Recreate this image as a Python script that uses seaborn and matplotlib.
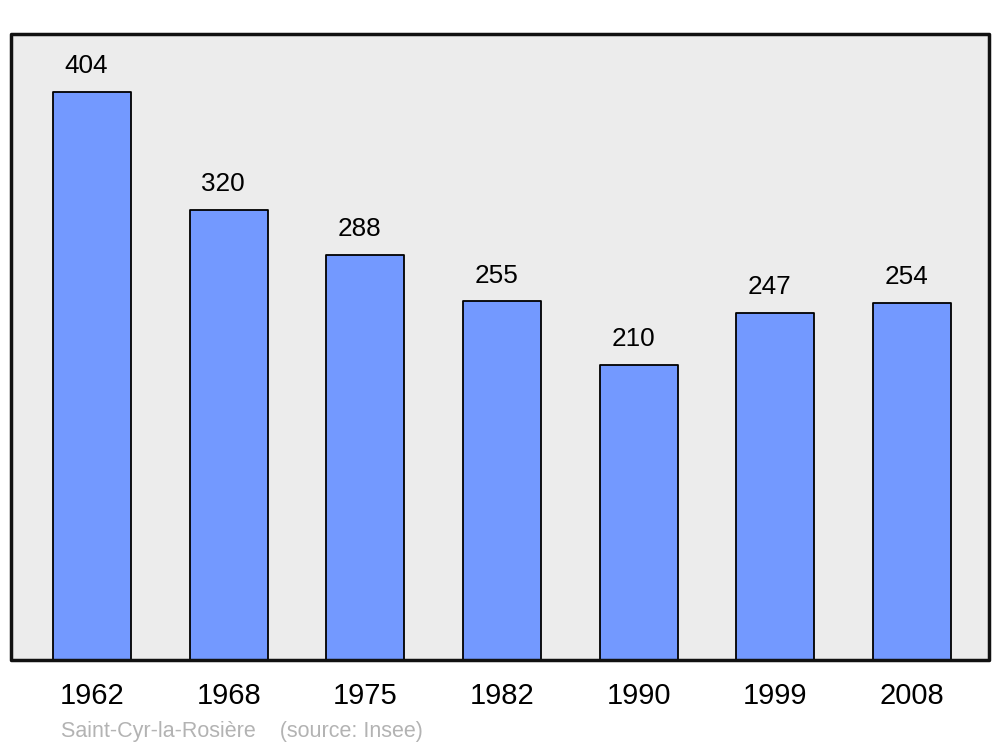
import matplotlib
matplotlib.use("Agg")
import matplotlib.pyplot as plt
import seaborn as sns
import pandas as pd
from matplotlib.patches import Rectangle

years = ["1962", "1968", "1975", "1982", "1990", "1999", "2008"]
population = [404, 320, 288, 255, 210, 247, 254]
source_text = "Saint-Cyr-la-Rosière    (source: Insee)"

sns.set_style("white")
plt.rcParams['font.family'] = ['Liberation Sans', 'DejaVu Sans']

df = pd.DataFrame({"year": years, "pop": population})

fig = plt.figure(figsize=(10, 7.47), dpi=100)
ax = fig.add_axes([0.011, 0.1165, 0.978, 0.838])
ax.set_facecolor("#ececec")

sns.barplot(data=df, x="year", y="pop", color="#7399ff", saturation=1,
            edgecolor="black", linewidth=1.3, width=0.57, ax=ax)
for p in ax.patches:
    p.set_joinstyle("round")

ax.set_xlim(-0.593, 6.563)
ax.set_ylim(0, 445)

for i, v in enumerate(population):
    ax.annotate(str(v), (i, v), xytext=(-4, 13.5), textcoords="offset points",
                ha="center", va="baseline", fontsize=18.8, color="black")

for s in ax.spines.values():
    s.set_visible(False)
frame = Rectangle((0, 0), 1, 1, transform=ax.transAxes, fill=False,
                  edgecolor="#111111", linewidth=2.5, joinstyle="round",
                  clip_on=False, zorder=5)
ax.add_patch(frame)

ax.set_xlabel("")
ax.set_ylabel("")
ax.set_yticks([])
ax.tick_params(axis="x", length=0, pad=16, labelsize=21, labelcolor="black")

fig.text(0.061, 1 - 737 / 747, source_text, fontsize=15.5, color="#b3b3b3",
         ha="left", va="baseline")

fig.savefig("out.png", dpi=100, facecolor="white")
